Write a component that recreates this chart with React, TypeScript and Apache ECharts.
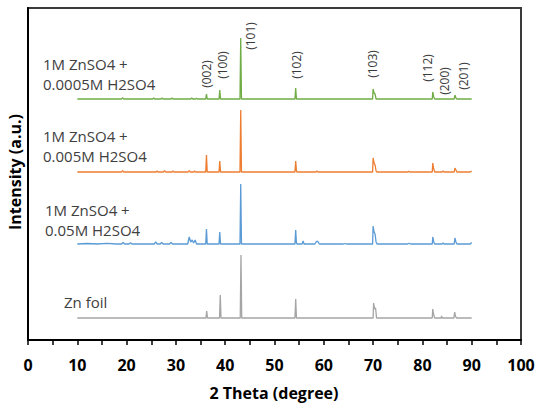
import React, { useEffect, useRef } from "react";
import * as echarts from "echarts";

// 2θ (degree) vs intensity (a.u., relative) for each sample
const znFoil: number[][] = [
  [10, 0], [36.1, 0], [36.25, 7], [36.4, 0], [38.85, 0], [39.0, 23], [39.15, 0],
  [43.05, 0], [43.2, 63], [43.35, 0], [54.15, 0], [54.3, 19], [54.45, 0],
  [70.0, 0], [70.1, 15], [70.3, 9], [70.5, 10], [70.7, 0], [82.0, 0], [82.1, 9],
  [82.3, 3], [82.5, 0], [83.8, 0], [83.9, 2], [84.0, 0], [86.4, 0], [86.55, 6],
  [86.7, 2], [86.9, 0], [90, 0],
];
const s005: number[][] = [
  [10, 0], [12, 0.5], [14, 0], [16, 0.7], [18, 0], [19, 0], [19.3, 1.5], [19.6, 0],
  [20.5, 0], [20.8, 1.2], [21.1, 0], [25.6, 0], [25.9, 2], [26.2, 0], [26.8, 0],
  [27.1, 1.5], [27.4, 0], [28.7, 0], [29, 1.5], [29.3, 0], [32.4, 0], [32.7, 7],
  [33.0, 2], [33.3, 4], [33.6, 1], [33.9, 4], [34.2, 0], [36.05, 0], [36.2, 15],
  [36.35, 0], [38.75, 0], [38.9, 12], [39.05, 0], [43.0, 0], [43.15, 60], [43.3, 0],
  [54.15, 0], [54.3, 14], [54.45, 1], [54.6, 0], [55.6, 0], [55.8, 3], [56, 0],
  [58.2, 0], [58.5, 2.5], [58.8, 2.5], [59.1, 0], [64, 0], [64.3, 0.5], [64.6, 0],
  [69.9, 0], [70.0, 18], [70.2, 12], [70.4, 10], [70.6, 2], [70.8, 0], [77, 0],
  [77.3, 0.8], [77.6, 0], [82, 0], [82.1, 7], [82.3, 2], [82.5, 0], [84, 0],
  [84.2, 1], [84.4, 0], [86.45, 0], [86.6, 6], [86.8, 2], [87, 0], [89.7, 0], [90, 1.5],
];
const s0005: number[][] = [
  [10, 0], [19, 0], [19.2, 1.5], [19.4, 0], [26, 0], [26.2, 1], [26.4, 0], [27.5, 0],
  [27.7, 1.5], [27.9, 0], [29.2, 0], [29.4, 1], [29.6, 0], [32.5, 0], [32.7, 1.5],
  [32.9, 0], [33.6, 0], [33.8, 1], [34, 0], [36.05, 0], [36.2, 17], [36.35, 0],
  [38.75, 0], [38.9, 11], [39.05, 0], [43.0, 0], [43.15, 62], [43.3, 0], [54.15, 0],
  [54.3, 11], [54.45, 1], [54.6, 0], [58.4, 0], [58.6, 1], [58.8, 0], [69.9, 0],
  [70.0, 14], [70.2, 9], [70.4, 7], [70.6, 1], [70.8, 0], [77, 0], [77.2, 0.8],
  [77.4, 0], [82, 0], [82.1, 9], [82.3, 3], [82.5, 0], [84, 0], [84.2, 1], [84.4, 0],
  [86.45, 0], [86.6, 4], [86.8, 2], [87, 0], [89.7, 0], [90, 1],
];
const s00005: number[][] = [
  [10, 0], [19, 0], [19.2, 1.5], [19.4, 0], [25.3, 0], [25.5, 1], [25.7, 0], [27, 0],
  [27.2, 1], [27.4, 0], [29, 0], [29.2, 1], [29.4, 0], [33, 0], [33.2, 1], [33.4, 0],
  [34, 0], [34.2, 0.8], [34.4, 0], [36.05, 0], [36.2, 5], [36.35, 0], [38.75, 0],
  [38.9, 9], [39.05, 0], [43.0, 0], [43.15, 61], [43.3, 0], [54.15, 0], [54.3, 11],
  [54.45, 0], [69.9, 0], [70.0, 10], [70.2, 6], [70.4, 5], [70.6, 0], [82, 0],
  [82.1, 7], [82.3, 2], [82.5, 0], [86.45, 0], [86.6, 4], [86.8, 1], [87, 0], [90, 0],
];

const seriesNames = [
  "Zn foil",
  "1M ZnSO4 + 0.05M H2SO4",
  "1M ZnSO4 + 0.005M H2SO4",
  "1M ZnSO4 + 0.0005M H2SO4",
];
const seriesData = [znFoil, s005, s0005, s00005];
const stackOffsets = [22, 96, 168, 241];
const seriesColors = ["#a5a5a5", "#5b9bd5", "#ed7d31", "#70ad47"];

const peakLabels = ["(002)", "(100)", "(101)", "(102)", "(103)", "(112)", "(200)", "(201)"];
const peakLabelPos = [
  [206, 74], [222, 65], [250, 36], [296, 65], [372, 64], [427, 68], [444, 81], [463, 76],
];

const sampleLabels = [
  ["1M ZnSO4 +", "0.0005M H2SO4"],
  ["1M ZnSO4 +", "0.005M H2SO4"],
  ["1M ZnSO4 +", "0.05M H2SO4"],
  ["Zn foil"],
];
const sampleLabelPos = [
  [43, 64], [43, 136], [45, 210], [64, 302],
];

const FONT = "'Open Sans', 'Liberation Sans', sans-serif";

export default function App() {
  const ref = useRef<HTMLDivElement>(null);
  useEffect(() => {
    if (!ref.current) return;
    const chart = echarts.init(ref.current, undefined, { renderer: "svg" });
    const graphics: any[] = [];
    peakLabels.forEach((t, i) => {
      graphics.push({
        type: "text",
        x: peakLabelPos[i][0],
        y: peakLabelPos[i][1],
        rotation: Math.PI / 2,
        style: {
          text: t,
          fill: "#3a3a3a",
          font: `12px ${FONT}`,
          textAlign: "center",
          textVerticalAlign: "middle",
        },
      });
    });
    sampleLabels.forEach((lines, i) => {
      lines.forEach((t, j) => {
        graphics.push({
          type: "text",
          x: sampleLabelPos[i][0],
          y: sampleLabelPos[i][1] + j * 19.5,
          style: {
            text: t,
            fill: "#404040",
            font: `15px ${FONT}`,
            textAlign: "left",
            textVerticalAlign: "middle",
          },
        });
      });
    });
    graphics.push({
      type: "text",
      x: 274,
      y: 393,
      style: {
        text: "2 Theta (degree)",
        fill: "#000",
        font: `bold 16px ${FONT}`,
        textAlign: "center",
        textVerticalAlign: "middle",
      },
    });
    graphics.push({
      type: "text",
      x: 15,
      y: 172,
      rotation: Math.PI / 2,
      style: {
        text: "Intensity (a.u.)",
        fill: "#000",
        font: `bold 16px ${FONT}`,
        textAlign: "center",
        textVerticalAlign: "middle",
      },
    });

    chart.setOption({
      animation: false,
      backgroundColor: "#fff",
      grid: {
        left: 28,
        right: 17,
        top: 8,
        bottom: 66,
        show: true,
        borderColor: "#3a3a3a",
        borderWidth: 2,
      },
      xAxis: {
        type: "value",
        min: 0,
        max: 100,
        interval: 5,
        axisLine: { show: true, lineStyle: { color: "#000", width: 2 } },
        axisTick: { show: true, inside: false, length: 5, lineStyle: { color: "#000", width: 1.5 } },
        splitLine: { show: false },
        axisLabel: {
          margin: 17,
          color: "#000",
          fontWeight: "bold",
          fontSize: 16,
          fontFamily: FONT,
          formatter: (v: number) => (v % 10 === 0 ? String(v) : ""),
        },
      },
      yAxis: {
        type: "value",
        min: 0,
        max: 332,
        axisLine: { show: true, lineStyle: { color: "#000", width: 2 } },
        axisTick: { show: false },
        axisLabel: { show: false },
        splitLine: { show: false },
      },
      series: seriesData.map((d, i) => ({
        name: seriesNames[i],
        type: "line",
        showSymbol: false,
        symbol: "none",
        data: d.map((p) => [p[0], p[1] + stackOffsets[i]]),
        lineStyle: { color: seriesColors[i], width: 1.3 },
        z: 3,
      })),
      graphic: graphics,
    });
    return () => chart.dispose();
  }, []);
  return (
    <div
      ref={ref}
      style={{ position: "fixed", left: 0, top: 0, width: 538, height: 406 }}
    />
  );
}
